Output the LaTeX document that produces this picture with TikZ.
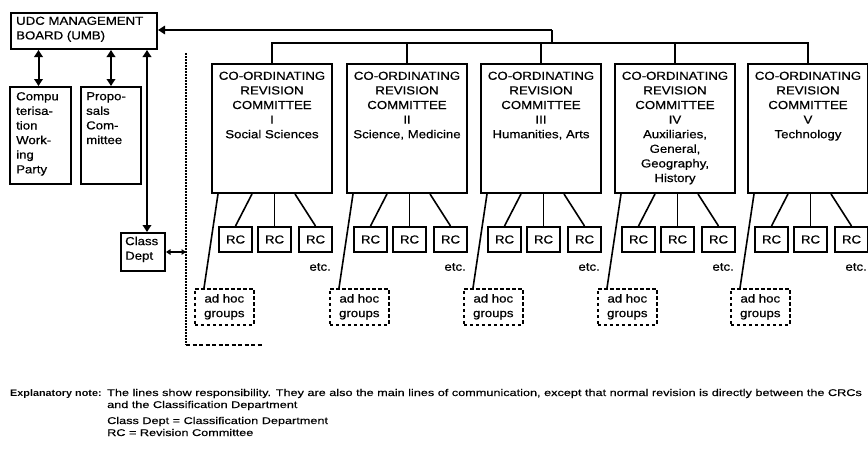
\documentclass[tikz,border=0pt]{standalone}
\usepackage{fontspec}
\setmainfont{Liberation Sans}[FakeStretch=1.14, FakeBold=0.6]
\newfontfamily\notefont{Liberation Sans}[FakeStretch=1.3, FakeBold=0.4]
\newfontfamily\noteboldfont{Liberation Sans}[FakeStretch=1.14]
\usetikzlibrary{arrows.meta}
\begin{document}
\begin{tikzpicture}[x=1pt,y=-1pt,
  box/.style={draw, line width=2pt, inner sep=0pt},
  lbl/.style={inner sep=0pt, font=\fontsize{11.6}{14.6}\selectfont},
  note/.style={inner sep=0pt, font=\notefont\fontsize{9.75}{12}\selectfont},
  ln/.style={line width=1.6pt},
  tip/.tip={Triangle[length=7pt,width=8.5pt]},
  stip/.tip={Triangle[length=4.5pt,width=5.5pt]},
  arr/.style={ln, -tip},
  dbl/.style={line width=2pt, tip-tip},
  sdbl/.style={line width=1.6pt, stip-stip},
  adhoc/.style={draw, line width=1.6pt, dash pattern=on 3.5pt off 2.5pt, inner sep=0pt},
  dotl/.style={line width=2pt, dash pattern=on 1.6pt off 1.4pt},
  dashl/.style={line width=1.6pt, dash pattern=on 4pt off 2.5pt}
]
\useasboundingbox (0,0) rectangle (868,450);

% management board and side boxes
\node[box, anchor=north west, minimum width=146pt, minimum height=36pt] (umb) at (10,12) {};
\node[lbl, anchor=north west, align=left] (umbt) at ([xshift=6pt,yshift=-4.5pt]umb.north west) {UDC MANAGEMENT\\BOARD (UMB)};

\node[box, anchor=north west, minimum width=61pt, minimum height=97pt] (comp) at (9,86) {};
\node[lbl, anchor=north west, align=left] (compt) at ([xshift=7pt,yshift=-6pt]comp.north west) {Compu\\terisa-\\tion\\Work-\\ing\\Party};

\node[box, anchor=north west, minimum width=60pt, minimum height=97pt] (prop) at (80,86) {};
\node[lbl, anchor=north west, align=left] (propt) at ([xshift=6pt,yshift=-6pt]prop.north west) {Propo-\\sals\\Com-\\mittee};

\node[box, anchor=north west, minimum width=44pt, minimum height=38pt] (cd) at (120,232) {};
\node[lbl, anchor=north west, align=left] (cdt) at ([xshift=5pt,yshift=-4.5pt]cd.north west) {Class\\Dept};

\draw[dbl] ([xshift=-2pt]comp.north |- umb.south) -- ([xshift=-2pt]comp.north);
\draw[dbl] (prop.north |- umb.south) -- (prop.north);
\draw[dbl] ([xshift=4pt]cd.north |- umb.south) -- ([xshift=4pt]cd.north);

% dotted boundary
\coordinate (d1) at (186,53);
\coordinate (d2) at (186,345);
\coordinate (d3) at (263,345);
\draw[dotl] (d1) -- (d2);
\draw[dashl] (d2) -- (d3);
\draw[sdbl] (cd.east) -- (cd.east -| d1);

% committees
\foreach \l/\n/\t in {211/1/{I\\Social Sciences}, 346/2/{II\\Science, Medicine}, 480/3/{III\\Humanities, Arts}, 614/4/{IV\\Auxiliaries,\\General,\\Geography,\\History}, 747/5/{V\\Technology}}{
  \node[box, anchor=north west, minimum width=120pt, minimum height=129pt] (c\n) at (\l,63) {};
  \node[lbl, anchor=north, align=center] (ct\n) at ([yshift=-8.5pt]c\n.north) {CO-ORDINATING\\REVISION\\COMMITTEE\\\t};
  \node[box, lbl, minimum width=33pt, minimum height=25pt] (ra\n) at (\l+24.5,239.5) {RC};
  \node[box, lbl, minimum width=33pt, minimum height=25pt] (rb\n) at (\l+63.5,239.5) {RC};
  \node[box, lbl, minimum width=33pt, minimum height=25pt] (rc\n) at (\l+104.5,239.5) {RC};
  \draw[ln] ([xshift=41pt]c\n.south west) -- (ra\n.north);
  \draw[ln] (rb\n.north |- c\n.south) -- (rb\n.north);
  \draw[ln] ([xshift=84pt]c\n.south west) -- (rc\n.north);
  \node[lbl, anchor=north east] (et\n) at ([xshift=-2pt,yshift=-10pt]rc\n.south east) {etc.};
  \node[adhoc, lbl, anchor=north west, minimum width=59pt, minimum height=36pt, align=center] (h\n) at (\l-17,288) {ad hoc\\groups};
  \draw[ln] ([xshift=7pt]c\n.south west) -- ([xshift=10pt]h\n.north west);
}

% top connections
\coordinate (j) at (552,30);
\coordinate (bus) at (552,43);
\draw[arr] (j) -- (j -| umb.east);
\draw[ln] (j) -- (bus);
\draw[ln] (c1.north) -- (c1.north |- bus) -- (c5.north |- bus) -- (c5.north);
\foreach \n in {2,3,4}{ \draw[ln] (c\n.north) -- (c\n.north |- bus); }

% explanatory note
\node[inner sep=0pt, anchor=base west, font=\noteboldfont\bfseries\fontsize{9.5}{12}\selectfont] (en) at (10,396) {Explanatory note:};
\node[note, anchor=base west] (e1) at (107,396) {The lines show responsibility. They are also the main lines of communication, except that normal revision is directly between the CRCs};
\node[note, anchor=base west] (e2) at (107,408) {and the Classification Department};
\node[note, anchor=base west] (e3) at (107,424) {Class Dept = Classification Department};
\node[note, anchor=base west] (e4) at (107,436) {RC = Revision Committee};
\end{tikzpicture}
\end{document}
